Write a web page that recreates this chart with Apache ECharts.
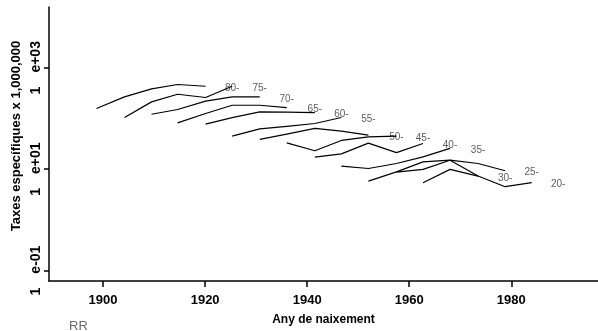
<!DOCTYPE html>
<html>
<head>
<meta charset="utf-8">
<script src="https://cdn.jsdelivr.net/npm/echarts@6/dist/echarts.min.js"></script>
<style>
html, body { margin: 0; padding: 0; background: #fff; }
#chart { width: 598px; height: 331px; }
</style>
</head>
<body>
<div id="chart"></div>
<script>
// cohorts (any de naixement), one every ~5 years
var cohorts = [1898.7, 1904.2, 1909.5, 1914.6, 1920.1, 1925.3, 1930.7, 1936.0, 1941.5,
    1946.7, 1952.0, 1957.5, 1962.7, 1968.0, 1973.5, 1978.8, 1984.0, 1989.2];
var ageGroups = ['80-', '75-', '70-', '65-', '60-', '55-', '50-', '45-', '40-', '35-', '30-', '25-', '20-'];

// taxes x 1,000,000 per age group (5 periods each)
var rates80 = [157, 266, 382, 467, 431];
var rates75 = [104.5, 212, 300, 259, 431];
var rates70 = [121, 150, 219, 266, 266];
var rates65 = [81.7, 125, 182, 182, 164];
var rates60 = [77, 103.5, 135, 133, 130];
var rates55 = [44.7, 62, 70, 79.5, 104.4];
var rates50 = [38.5, 49, 63.4, 56, 46.8];
var rates45 = [33, 23, 36.8, 43.3, 44.6];
var rates40 = [17.2, 20, 32.5, 21.1, 32];
var rates35 = [11.5, 10.3, 12.9, 17.5, 25.6];
var rates30 = [5.8, 8.85, 13.9, 15.0, 7.3];
var rates25 = [8.7, 9.9, 15.0, 12.9, 9.3];
var rates20 = [5.4, 9.9, 7.3, 4.5, 5.4];
var rates = [rates80, rates75, rates70, rates65, rates60, rates55, rates50,
    rates45, rates40, rates35, rates30, rates25, rates20];

// tick labels
var xTicks = [1900, 1920, 1940, 1960, 1980];
var yTicks = [0.1, 10, 1000];
var yTickText = { '0.1': 'e-01', '10': 'e+01', '1000': 'e+03' };

var chart = echarts.init(document.getElementById('chart'));

var series = [];
var labelData = [];
for (var i = 0; i < rates.length; i++) {
    var pts = [];
    for (var j = 0; j < rates[i].length; j++) {
        pts.push([cohorts[i + j], rates[i][j]]);
    }
    series.push({
        type: 'line',
        data: pts,
        showSymbol: false,
        symbol: 'none',
        lineStyle: { color: '#000', width: 1.2 },
        silent: true
    });
    // etiqueta al final de cada línia
    labelData.push([cohorts[i + 5], rates[i][4], ageGroups[i]]);
}
series.push({
    type: 'scatter',
    data: labelData,
    symbolSize: 0,
    silent: true,
    label: {
        show: true,
        position: 'inside',
        offset: [0, 2],
        formatter: function (p) { return p.value[2]; },
        fontFamily: 'Liberation Sans',
        fontSize: 10,
        color: '#333'
    }
});

var option = {
    animation: false,
    backgroundColor: '#fff',
    title: {
        text: 'RR',
        left: 64,
        top: 315,
        textStyle: { fontFamily: 'Liberation Sans', fontSize: 13, fontWeight: 'normal', color: '#6a6a6a' }
    },
    grid: { left: 49, right: 0, top: 7, bottom: 50, outerBoundsMode: 'none' },
    xAxis: {
        type: 'value',
        min: 1889.4,
        max: 1997,
        name: 'Any de naixement',
        nameLocation: 'middle',
        nameGap: 33,
        nameTextStyle: { fontFamily: 'Liberation Sans', fontSize: 12, fontWeight: 'bold', color: '#000' },
        axisLine: { show: true, onZero: false, lineStyle: { color: '#000', width: 1.5 } },
        axisTick: { show: true, length: 6, customValues: xTicks, lineStyle: { color: '#000', width: 1.5 } },
        axisLabel: {
            customValues: xTicks,
            margin: 13,
            formatter: function (v) { return String(v); },
            fontFamily: 'Liberation Sans',
            fontSize: 13,
            fontWeight: 'bold',
            color: '#000'
        },
        splitLine: { show: false }
    },
    yAxis: {
        type: 'log',
        logBase: 10,
        min: 0.0621,
        max: 15780,
        name: 'Taxes específiques x 1,000,000',
        nameLocation: 'middle',
        nameGap: 26,
        nameMoveOverlap: false,
        nameTextStyle: { fontFamily: 'Liberation Sans', fontSize: 13, fontWeight: 'bold', color: '#000', padding: [0, 0, 0, 16] },
        axisLine: { show: true, lineStyle: { color: '#000', width: 1.5 } },
        axisTick: { show: true, length: 5, customValues: yTicks, lineStyle: { color: '#000', width: 1.5 } },
        axisLabel: {
            customValues: yTicks,
            rotate: 90,
            margin: 6,
            formatter: function (v) {
                var key = String(Math.round(v * 10) / 10);
                return '{a|1}{b|' + (yTickText[key] || '') + '}';
            },
            rich: {
                a: { fontFamily: 'Liberation Sans', fontSize: 14, fontWeight: 'bold', color: '#000', padding: [0, 14, 0, 0] },
                b: { fontFamily: 'Liberation Sans', fontSize: 14, fontWeight: 'bold', color: '#000' }
            }
        },
        splitLine: { show: false }
    },
    series: series
};

chart.setOption(option);
</script>
</body>
</html>
